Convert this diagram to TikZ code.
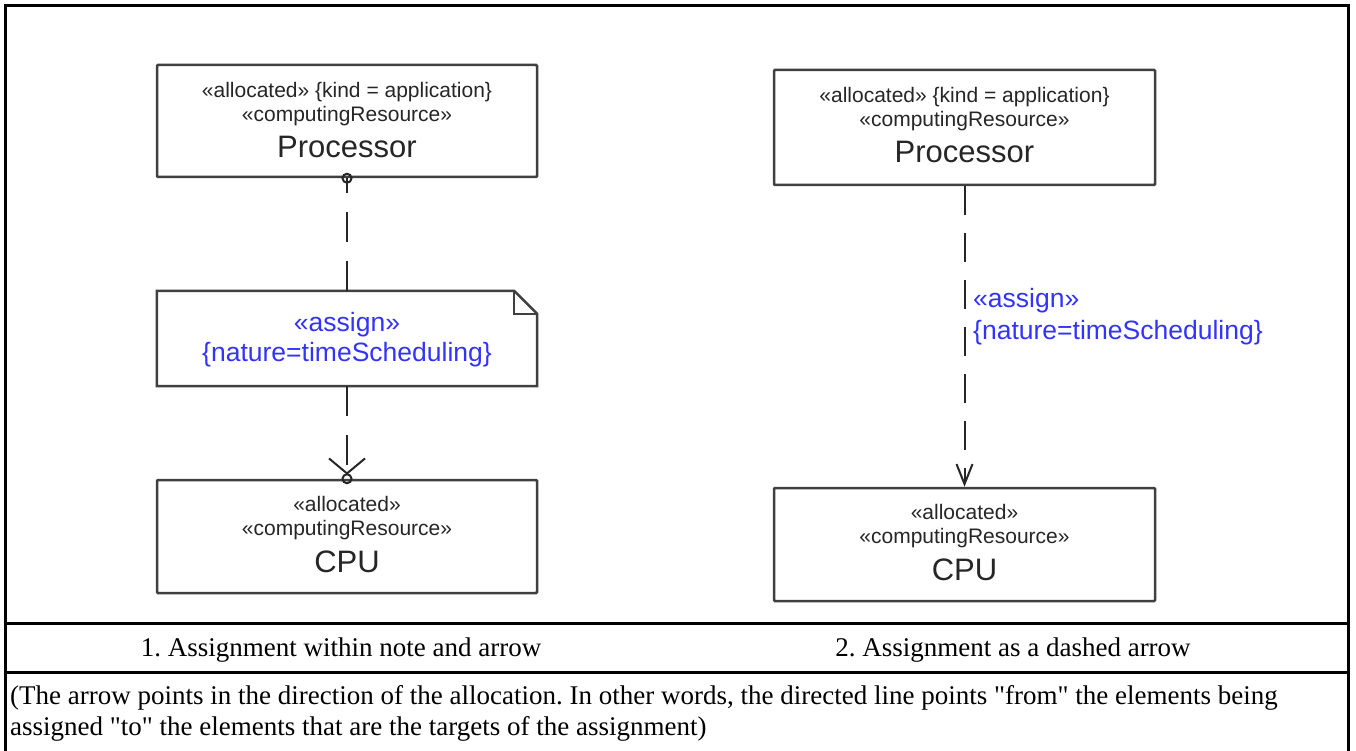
\documentclass[tikz,border=0pt]{standalone}
\usepackage{fontspec}
\setmainfont{Liberation Serif}
\newfontfamily\diagfont{Liberation Sans}
\usetikzlibrary{arrows.meta}
\definecolor{boxgray}{HTML}{404040}
\definecolor{ublue}{RGB}{51,51,255}
\definecolor{txtgray}{HTML}{262626}
\tikzset{
  umlbox/.style={draw=boxgray, line width=2.5pt, rounded corners=1pt, minimum width=380pt, inner sep=0pt},
  notebg/.style={draw=none, minimum width=380pt, minimum height=95pt, inner sep=0pt},
  noteline/.style={draw=boxgray, line width=2.5pt, line join=miter},
  stereo/.style={font=\diagfont\fontsize{21}{24}\selectfont, text=txtgray, inner sep=0pt, anchor=base},
  umlname/.style={font=\diagfont\fontsize{31}{34}\selectfont, text=txtgray, inner sep=0pt, anchor=base},
  assigntext/.style={font=\diagfont\fontsize{26.5}{30}\selectfont, text=ublue, inner sep=0pt},
  conn/.style={draw=black!85, line width=2pt},
  framerule/.style={line width=3pt, black},
  captiontext/.style={font=\fontsize{27}{31}\selectfont, inner sep=0pt, anchor=base},
}
\begin{document}
\frenchspacing
\begin{tikzpicture}[x=1pt,y=-1pt]
\useasboundingbox (0,0) rectangle (1356,751);
\fill[white] (0,0) rectangle (1356,751);
% frame
\draw[framerule] (5,760) -- (5,6) -- (1348,6) -- (1348,760);
\draw[framerule] (5,623) -- (1348,623);
\draw[framerule] (5,672) -- (1348,672);

% ---------- left diagram ----------
\node[umlbox, minimum height=112pt] (p1) at (347,121) {};
\node[stereo] (p1a) at (347,98) {«allocated» \{kind = application\}};
\node[stereo] (p1b) at (347,122) {«computingResource»};
\node[umlname] (p1n) at (347,158) {Processor};

\node[notebg] (note) at (347,338.5) {};
\draw[noteline] (note.north west) -- ([xshift=-23pt]note.north east) -- ([yshift=-23pt]note.north east) -- (note.south east) -- (note.south west) -- cycle;
\draw[noteline] ([xshift=-23pt]note.north east) |- ([yshift=-23pt]note.north east);
\node[assigntext, anchor=base] (n1) at (347,331) {«assign»};
\node[assigntext, anchor=base] (n2) at (347,361) {\{nature=timeScheduling\}};

\node[umlbox, minimum height=113pt] (c1) at (347,536.5) {};
\node[stereo] (c1a) at (347,511) {«allocated»};
\node[stereo] (c1b) at (347,535) {«computingResource»};
\node[umlname] (c1n) at (347,572) {CPU};

\draw[conn, dash pattern=on 30pt off 19pt] (note.north) -- (p1.south);
\draw[conn] (p1.south) circle (4.5pt);
\draw[conn, dash pattern=on 30pt off 19pt, -{Straight Barb[length=15pt,width=36pt,line width=2pt]}] (note.south) -- ([yshift=4pt]c1.north);
\draw[conn] (c1.north) circle (4.5pt);

% ---------- right diagram ----------
\node[umlbox, minimum width=381pt, minimum height=115pt] (p2) at (964.5,127.5) {};
\node[stereo] (p2a) at (964.5,103) {«allocated» \{kind = application\}};
\node[stereo] (p2b) at (964.5,127) {«computingResource»};
\node[umlname] (p2n) at (964.5,163) {Processor};

\node[umlbox, minimum width=381pt, minimum height=113pt] (c2) at (964.5,544.5) {};
\node[stereo] (c2a) at (964.5,519) {«allocated»};
\node[stereo] (c2b) at (964.5,543) {«computingResource»};
\node[umlname] (c2n) at (964.5,580) {CPU};

\draw[conn, dash pattern=on 29pt off 18pt, -{Straight Barb[length=20pt,width=16pt,line width=2pt]}] (p2.south) -- (c2.north);
\node[assigntext, anchor=base west] (l1) at (973,307) {«assign»};
\node[assigntext, anchor=base west] (l2) at (973,339) {\{nature=timeScheduling\}};

% ---------- captions ----------
\node[captiontext] (cap1) at (341,656) {1. Assignment within note and arrow};
\node[captiontext] (cap2) at (1013,656) {2. Assignment as a dashed arrow};
\node[captiontext, anchor=base west] (t1) at (10,704) {(The arrow points in the direction of the allocation. In other words, the directed line points \textquotedbl from\textquotedbl{} the elements being};
\node[captiontext, anchor=base west] (t2) at (10,735) {assigned \textquotedbl to\textquotedbl{} the elements that are the targets of the assignment)};
\end{tikzpicture}
\end{document}
